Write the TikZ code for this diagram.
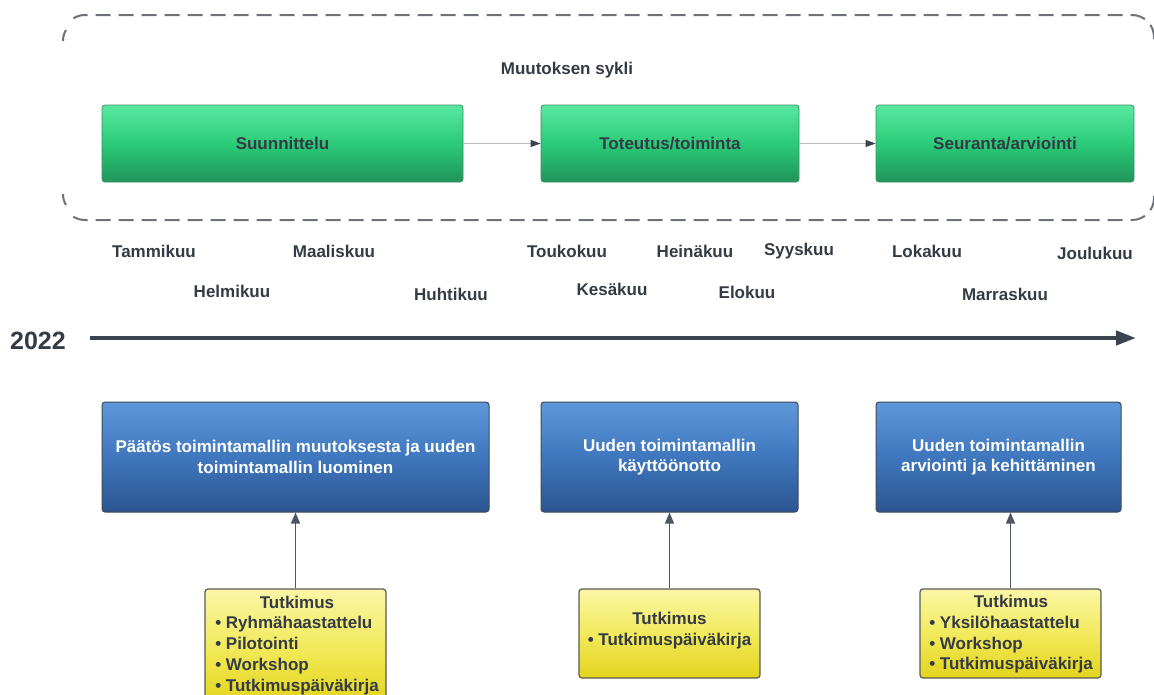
\documentclass[tikz,border=0pt]{standalone}
\usepackage{fontspec}
\setmainfont{Liberation Sans}
\usetikzlibrary{arrows.meta}
\definecolor{txt}{HTML}{343B45}
\definecolor{dashc}{HTML}{6E7278}
\definecolor{gtop}{HTML}{58E8A0}
\definecolor{gmid}{HTML}{2ACB78}
\definecolor{gbot}{HTML}{20955A}
\definecolor{gbord}{HTML}{3C8F62}
\definecolor{btop}{HTML}{5E98DA}
\definecolor{bmid}{HTML}{3F77BE}
\definecolor{bbot}{HTML}{2B5590}
\definecolor{bbord}{HTML}{3F4A58}
\definecolor{ytop}{HTML}{FBF6A6}
\definecolor{ymid}{HTML}{F2EA5C}
\definecolor{ybot}{HTML}{E3D41C}
\definecolor{ybord}{HTML}{5A5A55}
\definecolor{axisc}{HTML}{3B4350}
\definecolor{thin}{HTML}{B8BBBF}
\tikzset{
  f17/.style={font=\fontsize{17}{20.7}\selectfont\bfseries},
  greenbox/.style={draw=gbord, line width=0.8pt, rounded corners=3pt,
    top color=gtop, bottom color=gbot, middle color=gmid,
    minimum height=77pt, inner sep=0pt, text=txt, f17},
  bluebox/.style={draw=bbord, line width=1pt, rounded corners=3pt,
    top color=btop, bottom color=bbot, middle color=bmid,
    minimum height=110pt, inner sep=0pt, text=white, f17, align=center},
  yellowbox/.style={draw=ybord, line width=1.2pt, rounded corners=3pt,
    top color=ytop, bottom color=ybot, middle color=ymid,
    minimum width=181pt, inner sep=0pt},
  ytext/.style={text=txt, f17, inner sep=0pt},
  month/.style={text=txt, f17, inner sep=0pt},
  flowarrow/.style={draw=thin, line width=1pt, -{Triangle[length=10pt,width=7pt,fill=axisc,color=axisc]}},
  uparrow/.style={draw=axisc!90, line width=1.6pt, -{Triangle[length=11pt,width=9pt]}},
  cycleborder/.style={draw=dashc, line width=2pt, dash pattern=on 15pt off 8pt},
  cyclestub/.style={draw=dashc, line width=2pt},
}
\begin{document}
\begin{tikzpicture}[x=1pt,y=-1pt]
\useasboundingbox[fill=white] (0,0) rectangle (1154,694);

% dashed cycle container (left side only shows short corner pieces)
\draw[cyclestub] (63,41) arc[start angle=180,end angle=210,radius=22];
\draw[cycleborder] (85,37) ++(238:22) arc[start angle=238,end angle=270,radius=22]
  -- (1132,15) arc[start angle=270,end angle=360,radius=22] -- (1154,45);
\draw[cyclestub] (63,194) arc[start angle=180,end angle=150,radius=22];
\draw[cycleborder] (85,198) ++(122:22) arc[start angle=122,end angle=90,radius=22]
  -- (1132,220) arc[start angle=90,end angle=0,radius=22] -- (1154,190);

\node[text=txt, f17, inner sep=0pt] (cycle) at (567,70) {Muutoksen sykli};

% green phases
\node[greenbox, minimum width=361pt] (g1) at (282.5,143.5) {Suunnittelu};
\node[greenbox, minimum width=258pt] (g2) at (670,143.5) {Toteutus/toiminta};
\node[greenbox, minimum width=258pt] (g3) at (1005,143.5) {Seuranta/arviointi};
\draw[flowarrow] (g1) -- (g2);
\draw[flowarrow] (g2) -- (g3);

% months
\node[month] (m1) at (154,251) {Tammikuu};
\node[month] (m2) at (232,291) {Helmikuu};
\node[month] (m3) at (334,251) {Maaliskuu};
\node[month] (m4) at (451,294) {Huhtikuu};
\node[month] (m5) at (567,251) {Toukokuu};
\node[month] (m6) at (612,289) {Kesäkuu};
\node[month] (m7) at (695,251) {Heinäkuu};
\node[month] (m8) at (747,292) {Elokuu};
\node[month] (m9) at (799,251) {Syyskuu};
\node[month] (m10) at (927,251) {Lokakuu};
\node[month] (m11) at (1005,294) {Marraskuu};
\node[month] (m12) at (1095,253) {Joulukuu};

% timeline
\node[text=txt, font=\fontsize{25}{28}\selectfont\bfseries, inner sep=0pt] (year) at (38,341) {2022};
\coordinate (tl0) at (90,338);
\coordinate (tl1) at (1136,338);
\draw[draw=axisc, line width=4pt, -{Triangle[length=20pt,width=14pt]}] (tl0) -- (tl1);

% blue boxes
\node[bluebox, minimum width=387pt] (b1) at (295.5,457) {Päätös toimintamallin muutoksesta ja uuden\\toimintamallin luominen};
\node[bluebox, minimum width=257pt] (b2) at (669.5,457) {Uuden toimintamallin\\käyttöönotto};
\node[bluebox, minimum width=245pt] (b3) at (998.5,457) {Uuden toimintamallin\\arviointi ja kehittäminen};

% yellow boxes
\node[yellowbox, minimum height=115pt] (y1) at (295.5,646.5) {};
\node[yellowbox, minimum height=89pt] (y2) at (669.5,633.5) {};
\node[yellowbox, minimum height=89pt] (y3) at (1010.5,633.5) {};

\node[ytext] (t1) at (297,645.5) {\renewcommand\arraystretch{1}\begin{tabular}{@{}l@{}}\multicolumn{1}{@{}c@{}}{Tutkimus}\\ • Ryhmähaastattelu\\ • Pilotointi\\ • Workshop\\ • Tutkimuspäiväkirja\end{tabular}};
\node[ytext] (t2) at (669.5,631) {\renewcommand\arraystretch{1}\begin{tabular}{@{}c@{}}Tutkimus\\ • Tutkimuspäiväkirja\end{tabular}};
\node[ytext] (t3) at (1011,634.5) {\renewcommand\arraystretch{1}\begin{tabular}{@{}l@{}}\multicolumn{1}{@{}c@{}}{Tutkimus}\\ • Yksilöhaastattelu\\ • Workshop\\ • Tutkimuspäiväkirja\end{tabular}};

% arrows from research to decisions
\draw[uparrow] (y1.north) -- (b1.south);
\draw[uparrow] (y2.north) -- (b2.south);
\draw[uparrow] (y3.north) -- (y3.north |- b3.south);
\end{tikzpicture}
\end{document}
